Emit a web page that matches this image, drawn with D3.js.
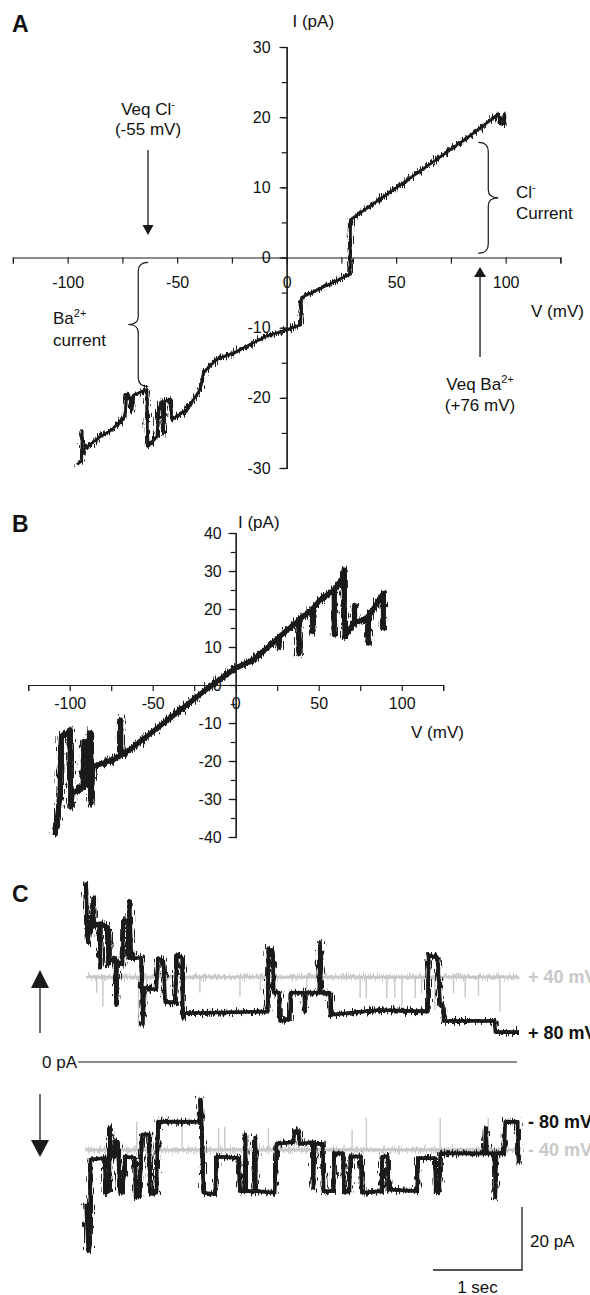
<!DOCTYPE html>
<html>
<head>
<meta charset="utf-8">
<script src="https://cdn.jsdelivr.net/npm/d3@7"></script>
<style>
  body { margin: 0; background: #fff; }
  svg { display: block; font-family: 'Liberation Sans', Arial, sans-serif; }
</style>
</head>
<body>
<svg id="fig" width="590" height="1295"></svg>
<script>
// ---- data ----
// Panel A : I-V ramp, [mV, pA]
var ivA = [[-95.7,-29.5],[-93.6,-29],[-93.4,-24.7],[-93.2,-28],[-92.7,-27.4],[-85,-25.5],[-80,-24.6],
  [-73.7,-22.6],[-73.3,-19.5],[-71.5,-20],[-70.6,-21.7],[-69.8,-19.6],[-63.8,-18.8],[-63.5,-26.9],
  [-59.2,-25.5],[-58.5,-21.7],[-57,-20.5],[-56.2,-25],[-55.8,-20.5],[-53.2,-20.2],[-52.4,-23.1],
  [-45.6,-21.7],[-39.5,-18.8],[-38,-16.4],[-31.9,-14.5],[-24.3,-13.6],[-9.1,-11.2],[0,-10.3],
  [6.4,-9.6],[6.8,-5.7],[28.9,-2.4],[29.2,5.4],[57.7,11.6],[83.5,17.3],[96.5,20.4],[98,19],
  [99.5,20.4],[99.6,18.9]];
var xTicksA = [-125,-100,-75,-50,-25,0,25,50,75,100,125];
var xLabelsA = [-100,-50,0,50,100];
var yTicksA = [-30,-25,-20,-15,-10,-5,0,5,10,15,20,25,30];
var yLabelsA = [-30,-20,-10,0,10,20,30];

// Panel B : I-V ramp, [mV, pA]
var ivB = [[-108.9,-39.5],[-107.5,-35],[-105.8,-29.4],[-105.4,-16.2],[-105,-13.5],[-102,-13],[-99.8,-11.8],
  [-99.5,-26.8],[-99.2,-32],[-98.5,-28.5],[-92,-27],[-91.5,-14.9],[-91,-26.5],[-88.3,-25.8],[-88,-12.6],
  [-87.5,-13],[-87.2,-31],[-86.5,-24],[-85.8,-21.5],[-73,-19.5],[-69.4,-18.5],[-69.3,-9.2],[-69.2,-18.5],
  [-63.7,-17],[-43.6,-10.1],[-15.5,-0.4],[0,4.5],[10.6,6.6],[26.1,12.5],[26.2,10],[26.3,12.7],[38,17],
  [38.1,8.2],[38.2,17.3],[46.3,19.8],[46.4,14],[46.5,20.1],[50.8,22.4],[59.3,25],[59.4,13.2],[59.5,25],
  [64.8,28.5],[65.2,30.3],[65.6,16.2],[65.8,12.7],[68.9,14.9],[71.5,16.5],[71.6,21],[71.7,16.5],
  [76.9,17.1],[79.8,18],[79.9,11],[80,18],[85,21.5],[88.9,24.1],[89,14.5]];
var xTicksB = [-125,-100,-75,-50,-25,0,25,50,75,100,125];
var xLabelsB = [-100,-50,0,50,100];
var yTicksB = [-40,-35,-30,-25,-20,-15,-10,-5,0,5,10,15,20,25,30,35,40];
var yLabelsB = [-40,-30,-20,-10,0,10,20,30,40];

// Panel C : single channel records, [s, pA]
var tracePos80 = [[0.00,57],[0.02,38],[0.04,42],[0.06,44],[0.08,52],[0.09,43],[0.15,44],[0.16,30],[0.17,44],
  [0.24,43],[0.25,31],[0.26,42],[0.27,32],[0.33,33],[0.34,18],[0.35,32],[0.41,31],[0.42,45],[0.47,45],
  [0.48,33],[0.49,51],[0.51,33],[0.62,33],[0.64,12],[0.65,23.5],[0.79,23],[0.81,33],[0.87,32],[0.89,19],
  [1.00,19],[1.02,34],[1.08,33],[1.09,14],[1.11,15.5],[2.04,16],[2.05,36],[2.10,35],[2.11,22],[2.17,22],
  [2.18,13],[2.29,13.5],[2.30,22],[2.45,22],[2.46,16],[2.47,22],[2.62,22],[2.63,38],[2.64,22],[2.74,22],
  [2.75,15],[3.30,16.5],[3.84,16],[3.85,34],[3.95,33],[3.98,18],[4.01,18],[4.02,13],[4.59,13],[4.60,9.5],
  [4.86,9.5]];
var traceNeg80 = [[0.00,-45],[0.025,-60],[0.045,-58],[0.05,-31],[0.21,-30.5],[0.22,-41.6],[0.26,-41],
  [0.27,-21],[0.28,-30],[0.32,-30],[0.33,-25],[0.36,-25.5],[0.38,-41],[0.41,-41.5],[0.44,-30],[0.55,-30.5],
  [0.56,-43],[0.60,-42.5],[0.63,-23],[0.71,-23],[0.72,-41.5],[0.79,-41.5],[0.81,-19],[1.27,-19],[1.29,-12],
  [1.30,-19],[1.32,-41.5],[1.45,-42],[1.47,-30],[1.71,-30.5],[1.73,-41],[1.78,-41],[1.79,-23],[1.80,-41],
  [1.89,-41],[1.90,-24],[1.91,-41],[2.12,-41.5],[2.14,-26],[2.33,-25.5],[2.34,-22],[2.39,-22],[2.40,-26],
  [2.55,-25.5],[2.555,-40],[2.57,-26],[2.66,-26],[2.67,-41],[2.78,-41],[2.79,-29],[2.89,-29],[2.90,-41.5],
  [2.96,-41],[2.97,-30],[3.09,-30],[3.10,-41.5],[3.32,-41],[3.33,-30],[3.39,-30],[3.40,-40.5],[3.72,-41],
  [3.73,-30.5],[3.92,-30.5],[3.93,-41],[3.97,-41],[3.98,-29],[4.48,-29],[4.49,-21],[4.50,-29],[4.59,-29],
  [4.60,-43],[4.61,-29],[4.70,-29],[4.71,-19],[4.85,-19],[4.86,-32]];
var basePos40 = [[0,27],[4.86,27]];
var spikesPos40 = [[0.12,22],[0.19,17.6],[0.59,11.2],[0.68,19.7],[1.28,22],[1.73,20.7],[1.96,22.5],
  [2.48,16.5],[3.08,20.3],[3.15,20.3],[3.38,20.3],[3.47,20.5],[3.55,17.6],[3.70,20.3],[3.77,21.9],
  [3.92,16.5],[4.13,21.9],[4.26,20.5],[4.41,21],[4.65,16]];
var baseNeg40 = [[0,-27.9],[4.86,-27.9]];
var spikesNeg40 = [[0.27,-20],[0.57,-19],[1.08,-18.5],[1.49,-21],[1.56,-20.5],[2.05,-21],[2.99,-21.5],
  [3.15,-17.8],[3.98,-17.8],[4.52,-17.8]];
var traceLabels = ["+ 40 mV", "+ 80 mV", "- 80 mV", "- 40 mV"];

// ---- drawing ----
var svg = d3.select("#fig");
var ink = "#1a1a1a", grey = "#c8c8c8";

// jitter filter gives the recording noise look to the traces
var defs = svg.append("defs");
var flt = defs.append("filter").attr("id", "jit")
  .attr("filterUnits", "userSpaceOnUse").attr("x", 0).attr("y", 0).attr("width", 590).attr("height", 1295);
flt.append("feTurbulence").attr("type", "fractalNoise").attr("baseFrequency", "0.9 0.1")
  .attr("numOctaves", 2).attr("seed", 4).attr("result", "n");
flt.append("feDisplacementMap").attr("in", "SourceGraphic").attr("in2", "n").attr("scale", 12)
  .attr("xChannelSelector", "R").attr("yChannelSelector", "G");

function trace(g, pts, x, y, color, core, fuzz) {
  var line = d3.line().x(function(d) { return x(d[0]); }).y(function(d) { return y(d[1]); });
  g.append("path").datum(pts).attr("d", line).attr("fill", "none").attr("stroke", color)
    .attr("stroke-width", fuzz).attr("stroke-linejoin", "round").attr("filter", "url(#jit)");
  g.append("path").datum(pts).attr("d", line).attr("fill", "none").attr("stroke", color)
    .attr("stroke-width", core).attr("stroke-linejoin", "round");
}

function styleAxis(sel) {
  sel.attr("font-family", null).attr("font-size", 16);
  sel.selectAll(".domain").attr("stroke", ink).attr("stroke-width", 1.2);
  sel.selectAll(".tick line").attr("stroke", ink).attr("stroke-width", 1.2);
  sel.selectAll(".tick text").attr("fill", "#111");
}

function ivAxes(g, x, y, xTicks, xLabels, yTicks, yLabels, xPad, yPad) {
  g.append("g").attr("transform", "translate(0," + y(0) + ")")
    .call(d3.axisBottom(x).tickValues(xTicks).tickSizeOuter(0).tickSize(6).tickPadding(xPad)
      .tickFormat(function(d) { return xLabels.indexOf(d) >= 0 ? String(d) : ""; }))
    .call(styleAxis);
  g.append("g").attr("transform", "translate(" + x(0) + ",0)")
    .call(d3.axisLeft(y).tickValues(yTicks).tickSizeOuter(0).tickSize(5).tickFormat(""))
    .call(styleAxis);
  g.append("g").attr("transform", "translate(" + x(0) + ",0)")
    .call(d3.axisLeft(y).tickValues(yLabels).tickSizeOuter(0).tickSize(7).tickPadding(yPad)
      .tickFormat(function(d) { return String(d); }))
    .call(styleAxis);
}

function txt(g, x, y, s, opts) {
  opts = opts || {};
  return g.append("text").attr("x", x).attr("y", y).text(s)
    .attr("font-size", opts.size || 16).attr("font-weight", opts.bold ? "bold" : null)
    .attr("text-anchor", opts.anchor || "start").attr("fill", opts.fill || "#111");
}

function arrow(g, x, y0, y1, hw, hl) {
  // y0 tail, y1 tip
  var dir = y1 > y0 ? 1 : -1;
  g.append("line").attr("x1", x).attr("x2", x).attr("y1", y0).attr("y2", y1 - dir * hl)
    .attr("stroke", ink).attr("stroke-width", 1.3);
  g.append("path").attr("d", "M" + (x - hw) + "," + (y1 - dir * hl) + "L" + (x + hw) + "," + (y1 - dir * hl) +
    "L" + x + "," + y1 + "Z").attr("fill", ink);
}

function brace(g, xEnd, yTop, yBot, dir) {
  // dir = 1 points right, -1 points left
  var xm = xEnd + dir * 10, xt = xEnd + dir * 20, ym = (yTop + yBot) / 2;
  var d = "M" + xEnd + "," + yTop + " Q" + xm + "," + yTop + " " + xm + "," + (yTop + 9) +
    " L" + xm + "," + (ym - 8) + " Q" + xm + "," + ym + " " + xt + "," + ym +
    " Q" + xm + "," + ym + " " + xm + "," + (ym + 8) +
    " L" + xm + "," + (yBot - 9) + " Q" + xm + "," + yBot + " " + xEnd + "," + yBot;
  g.append("path").attr("d", d).attr("fill", "none").attr("stroke", ink).attr("stroke-width", 1.2);
}

// ---------- Panel A ----------
var gA = svg.append("g");
var xA = d3.scaleLinear().domain([-125, 125]).range([12.9, 560.4]);
var yA = d3.scaleLinear().domain([-30, 30]).range([468, 47]);
ivAxes(gA, xA, yA, xTicksA, xLabelsA, yTicksA, yLabelsA, 13, 9);
trace(gA, ivA, xA, yA, ink, 2.8, 3.4);
txt(gA, 12, 32, "A", {size: 23, bold: true});
txt(gA, 292.5, 27, "I (pA)", {size: 17});
txt(gA, 531, 317, "V (mV)", {size: 17});
var tCl = txt(gA, xA(-63.3), 115, "Veq Cl", {size: 17, anchor: "middle"});
tCl.append("tspan").attr("dy", -7).attr("font-size", 11).text("-");
txt(gA, xA(-63.3), 135, "(-55 mV)", {size: 17, anchor: "middle"});
arrow(gA, xA(-63.3), 150, 235, 5.5, 10);
var tBa = txt(gA, xA(88.3), 390, "Veq Ba", {size: 17, anchor: "middle"});
tBa.append("tspan").attr("dy", -7).attr("font-size", 11).text("2+");
txt(gA, xA(88.3), 411, "(+76 mV)", {size: 17, anchor: "middle"});
arrow(gA, xA(88.3), 357, 267, 6, 10);
brace(gA, xA(87.5), yA(16.4), yA(0.6), 1);
var tCl2 = txt(gA, 516, 198, "Cl", {size: 17});
tCl2.append("tspan").attr("dy", -7).attr("font-size", 11).text("-");
txt(gA, 516, 219, "Current", {size: 17});
brace(gA, xA(-63.2), yA(-0.7), yA(-18.4), -1);
var tBa2 = txt(gA, 53, 324, "Ba", {size: 17});
tBa2.append("tspan").attr("dy", -7).attr("font-size", 11).text("2+");
txt(gA, 53, 346, "current", {size: 17});

// ---------- Panel B ----------
var gB = svg.append("g");
var xB = d3.scaleLinear().domain([-125, 125]).range([28.2, 443.2]);
var yB = d3.scaleLinear().domain([-40, 40]).range([837, 533]);
ivAxes(gB, xB, yB, xTicksB, xLabelsB, yTicksB, yLabelsB, 7, 7);
trace(gB, ivB, xB, yB, ink, 5, 5.5);
txt(gB, 12, 532, "B", {size: 23, bold: true});
txt(gB, 238, 528, "I (pA)", {size: 17});
txt(gB, 411, 738, "V (mV)", {size: 17});

// ---------- Panel C ----------
var gC = svg.append("g");
var xC = d3.scaleLinear().domain([0, 5]).range([86, 531]);
var yC = d3.scaleLinear().domain([-60, 60]).range([1251, 873]);
txt(gC, 12, 902, "C", {size: 23, bold: true});

// grey +40 / -40 records
[[basePos40, spikesPos40], [baseNeg40, spikesNeg40]].forEach(function(p) {
  trace(gC, p[0], xC, yC, grey, 2.6, 3.4);
  gC.selectAll(null).data(p[1]).enter().append("line")
    .attr("x1", function(d) { return xC(d[0]); }).attr("x2", function(d) { return xC(d[0]); })
    .attr("y1", yC(p[0][0][1])).attr("y2", function(d) { return yC(d[1]); })
    .attr("stroke", grey).attr("stroke-width", 1.4);
});
trace(gC, tracePos80, xC, yC, ink, 3.6, 4);
trace(gC, traceNeg80, xC, yC, ink, 3.6, 4);

// 0 pA line
gC.append("line").attr("x1", 78).attr("x2", 517).attr("y1", yC(0)).attr("y2", yC(0))
  .attr("stroke", ink).attr("stroke-width", 1.2);
txt(gC, 77, yC(0) + 6, "0 pA", {anchor: "end", size: 17});

// direction arrows
arrow(gC, 40, 1033, 970, 9, 18);
arrow(gC, 40, 1094, 1157, 9, 17);

// trace labels
var labY = [27, 9.5, -19, -27.9];
var labC = [grey, "#111", "#111", grey];
traceLabels.forEach(function(s, i) {
  txt(gC, 528, yC(labY[i]) + 6.5, s, {bold: true, fill: labC[i], size: 18});
});

// scale bar 20 pA / 1 sec
var sbX = 522, sbY = 1270;
gC.append("path")
  .attr("d", "M" + (sbX - (xC(1) - xC(0))) + "," + sbY + "L" + sbX + "," + sbY + "L" + sbX + "," + (sbY - (yC(0) - yC(20))))
  .attr("fill", "none").attr("stroke", ink).attr("stroke-width", 1.3);
txt(gC, 530, 1247, "20 pA", {size: 17});
txt(gC, sbX - (xC(1) - xC(0)) / 2, 1293, "1 sec", {anchor: "middle", size: 17});
</script>
</body>
</html>
